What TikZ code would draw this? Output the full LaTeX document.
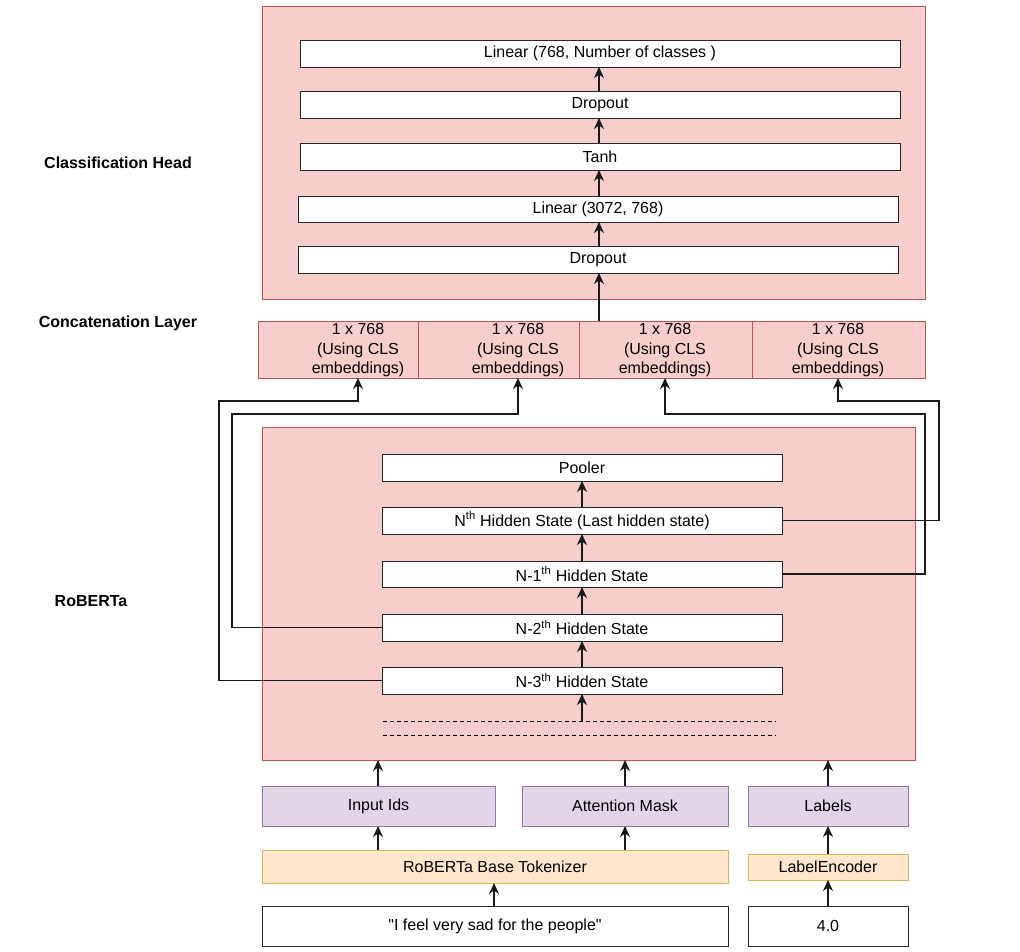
\documentclass[tikz,border=0pt]{standalone}
\usepackage{fontspec}
\setmainfont{Liberation Sans}[Ligatures=TeXOff]
\usetikzlibrary{arrows.meta,calc}
\definecolor{pinkfill}{HTML}{F8CECC}
\definecolor{pinkline}{HTML}{B85450}
\definecolor{purpfill}{HTML}{E1D5E7}
\definecolor{purpline}{HTML}{9673A6}
\definecolor{orfill}{HTML}{FFE6CC}
\definecolor{orline}{HTML}{D6B656}
\tikzset{
  every node/.style={font=\fontsize{16}{19.5}\selectfont, inner sep=0pt, outer sep=0pt},
  whitebox/.style={draw=black!85, fill=white, line width=1pt, anchor=north west},
  groupbox/.style={draw=pinkline, fill=pinkfill, line width=1pt, anchor=north west},
  purpbox/.style={draw=purpline, fill=purpfill, line width=1pt, anchor=north west},
  orbox/.style={draw=orline, fill=orfill, line width=1pt, anchor=north west},
  sidelabel/.style={font=\bfseries\fontsize{16}{19.5}\selectfont},
  arr/.style={draw=black!90, line width=1.1pt, -{Stealth[length=11pt,width=10pt,inset=3.5pt]}},
  dashline/.style={draw=black, line width=1pt, dash pattern=on 4pt off 3pt}
}
\begin{document}
\begin{tikzpicture}[x=1pt,y=-1pt]
\useasboundingbox (0,0) rectangle (1020,951);

% Classification head
\node[groupbox, minimum width=663pt, minimum height=293pt] (head) at (262,6) {};
\node[whitebox, minimum width=600pt, minimum height=27pt] (h5) at (300,40) {Linear (768, Number of classes )};
\node[whitebox, minimum width=600pt, minimum height=27pt] (h4) at (300,91) {Dropout};
\node[whitebox, minimum width=600pt, minimum height=27pt] (h3) at (300,143) {Tanh};
\node[whitebox, minimum width=600pt, minimum height=26pt] (h2) at (298,196) {Linear (3072, 768)};
\node[whitebox, minimum width=600pt, minimum height=27pt] (h1) at (298,246) {Dropout};

\node[sidelabel] (lblhead) at (118,163) {Classification Head};
\node[sidelabel] (lblconcat) at (118,323) {Concatenation Layer};
\node[sidelabel] (lblrob) at (91,601) {RoBERTa};

% Concatenation layer
\node[groupbox, minimum width=160pt, minimum height=57pt] (c1) at (258,321) {};
\node[groupbox, minimum width=161pt, minimum height=57pt] (c2) at (418,321) {};
\node[groupbox, minimum width=173pt, minimum height=57pt] (c3) at (579,321) {};
\node[groupbox, minimum width=173pt, minimum height=57pt] (c4) at (752,321) {};
\node[align=center] (c1t) at (358,350.5) {1 x 768\\(Using CLS\\embeddings)};
\node[align=center] (c2t) at (518,350.5) {1 x 768\\(Using CLS\\embeddings)};
\node[align=center] (c3t) at (665,350.5) {1 x 768\\(Using CLS\\embeddings)};
\node[align=center] (c4t) at (838,350.5) {1 x 768\\(Using CLS\\embeddings)};

% RoBERTa
\node[groupbox, minimum width=653pt, minimum height=333pt] (rob) at (262,427) {};
\node[whitebox, minimum width=400pt, minimum height=27pt] (pool) at (382,454) {Pooler};
\node[whitebox, minimum width=400pt, minimum height=27pt] (nth) at (382,507) {N\textsuperscript{th} Hidden State (Last hidden state)};
\node[whitebox, minimum width=400pt, minimum height=26pt] (n1) at (382,561) {N-1\textsuperscript{th} Hidden State};
\node[whitebox, minimum width=400pt, minimum height=27pt] (n2) at (382,614) {N-2\textsuperscript{th} Hidden State};
\node[whitebox, minimum width=400pt, minimum height=27pt] (n3) at (382,667) {N-3\textsuperscript{th} Hidden State};
\coordinate (da) at (383,721);
\coordinate (db) at (776,721);
\coordinate (dc) at (383,735);
\coordinate (dd) at (776,735);
\coordinate (dtop) at (582,721);
\draw[dashline] (da) -- (db);
\draw[dashline] (dc) -- (dd);

% Inputs
\node[purpbox, minimum width=233pt, minimum height=40pt] (ids) at (262,786) {Input Ids};
\node[purpbox, minimum width=206pt, minimum height=40pt] (att) at (522,786) {Attention Mask};
\node[purpbox, minimum width=160pt, minimum height=40pt] (lab) at (748,786) {Labels};
\node[orbox, minimum width=466pt, minimum height=33pt] (tok) at (262,850) {RoBERTa Base Tokenizer};
\node[orbox, minimum width=160pt, minimum height=26pt] (enc) at (748,854) {LabelEncoder};
\node[whitebox, minimum width=466pt, minimum height=40pt] (sent) at (262,906) {"I feel very sad for the people"};
\node[whitebox, minimum width=160pt, minimum height=40pt] (val) at (748,906) {4.0};

% Arrows: classification head
\draw[arr] (h1.north -| 599,0) -- (h2.south -| 599,0);
\draw[arr] (h2.north -| 599,0) -- (h3.south -| 599,0);
\draw[arr] (h3.north -| 599,0) -- (h4.south -| 599,0);
\draw[arr] (h4.north -| 599,0) -- (h5.south -| 599,0);
\draw[arr] (c3.north -| 599,0) -- (h1.south -| 599,0);

% Arrows: RoBERTa stack
\draw[arr] (dtop) -- (n3.south -| dtop);
\draw[arr] (n3.north) -- (n2.south);
\draw[arr] (n2.north) -- (n1.south);
\draw[arr] (n1.north) -- (nth.south);
\draw[arr] (nth.north) -- (pool.south);

% Arrows: hidden states to concatenation
\draw[arr] (n3.west) -| (219,401) -| (c1.south -| c1t);
\draw[arr] (n2.west) -| (232,414) -| (c2.south -| c2t);
\draw[arr] (n1.east) -| (925,414) -| (c3.south -| c3t);
\draw[arr] (nth.east) -| (939,401) -| (c4.south -| c4t);

% Arrows: inputs
\draw[arr] (ids.north -| 378,0) -- (rob.south -| 378,0);
\draw[arr] (att.north -| 625,0) -- (rob.south -| 625,0);
\draw[arr] (lab.north) -- (rob.south -| lab);
\draw[arr] (tok.north -| 378,0) -- (ids.south -| 378,0);
\draw[arr] (tok.north -| 625,0) -- (att.south -| 625,0);
\draw[arr] (sent.north -| 494,0) -- (tok.south -| 494,0);
\draw[arr] (val.north) -- (enc.south);
\draw[arr] (enc.north) -- (lab.south);
\end{tikzpicture}
\end{document}
